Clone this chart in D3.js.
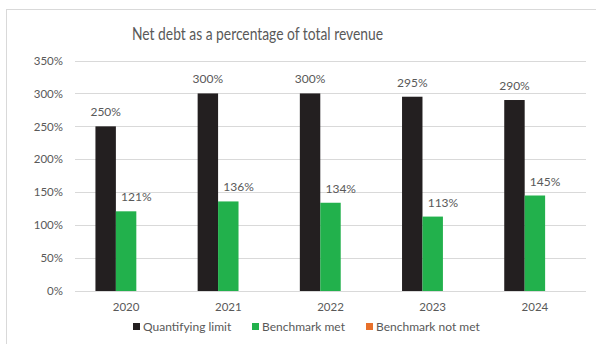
<!DOCTYPE html>
<html>
<head>
<meta charset="utf-8">
<script src="https://cdn.jsdelivr.net/npm/d3@7"></script>
<style>
  html, body { margin: 0; padding: 0; background: #fff; }
  svg { display: block; }
  text { font-family: "Lato", "Open Sans", sans-serif; fill: #595959; }
</style>
</head>
<body>
<svg id="chart" width="596" height="344"></svg>
<script>
// Net debt as a percentage of total revenue, 2020–2024
const years = ["2020", "2021", "2022", "2023", "2024"];
const seriesNames = ["Quantifying limit", "Benchmark met", "Benchmark not met"];
const quantifyingLimit = [2.50, 3.00, 3.00, 2.95, 2.90];
const benchmarkMet = [1.21, 1.36, 1.34, 1.13, 1.45];
const benchmarkNotMet = [0, 0, 0, 0, 0];
const yTicks = [0, 0.5, 1.0, 1.5, 2.0, 2.5, 3.0, 3.5];
const seriesColors = ["#231f20", "#22b14c", "#e8702a"];

const seriesValues = [quantifyingLimit, benchmarkMet, benchmarkNotMet];

const svg = d3.select("#chart");

// chart frame
svg.append("rect")
  .attr("x", 6.5).attr("y", 9.5)
  .attr("width", 620).attr("height", 360)
  .attr("fill", "none")
  .attr("stroke", "#d9d9d9");

const plot = { left: 75, right: 586, top: 60.5, bottom: 291 };

const x0 = d3.scaleBand()
  .domain(years)
  .range([plot.left, plot.right])
  .paddingInner(0.4)
  .paddingOuter(0.2);

const x1 = d3.scaleBand()
  .domain(seriesNames)
  .range([0, x0.bandwidth()]);

const y = d3.scaleLinear()
  .domain([0, 3.5])
  .range([plot.bottom, plot.top]);

const pct = d3.format(".0%");

// title, set in a narrow cut
svg.append("text")
  .attr("x", 132).attr("y", 40)
  .attr("textLength", 251)
  .attr("lengthAdjust", "spacingAndGlyphs")
  .style("font-size", "17px")
  .text("Net debt as a percentage of total revenue");

// gridlines
svg.append("g")
  .selectAll("line")
  .data(yTicks)
  .join("line")
  .attr("x1", plot.left).attr("x2", plot.right)
  .attr("y1", d => Math.round(y(d)) + 0.5)
  .attr("y2", d => Math.round(y(d)) + 0.5)
  .attr("stroke", "#d9d9d9")
  .attr("stroke-width", 1);

// y axis labels
const yAxis = d3.axisLeft(y).tickValues(yTicks).tickFormat(pct).tickSize(0).tickPadding(12);
const gy = svg.append("g")
  .attr("transform", `translate(${plot.left},0)`)
  .call(yAxis);
gy.select(".domain").remove();
gy.selectAll("text").style("font-size", "11.5px").attr("fill", "#595959")
  .style("font-family", "Lato, 'Open Sans', sans-serif");

// x axis labels
const xAxis = d3.axisBottom(x0).tickSize(0).tickPadding(12);
const gx = svg.append("g")
  .attr("transform", `translate(0,${plot.bottom})`)
  .call(xAxis);
gx.select(".domain").remove();
gx.selectAll("text").style("font-size", "11.5px").attr("fill", "#595959")
  .style("font-family", "Lato, 'Open Sans', sans-serif");

// bars
const groups = svg.append("g")
  .selectAll("g")
  .data(years)
  .join("g")
  .attr("transform", d => `translate(${x0(d)},0)`);

groups.selectAll("rect")
  .data((d, i) => seriesNames.map((s, k) => ({ s, k, v: seriesValues[k][i] })))
  .join("rect")
  .attr("x", d => x1(d.s))
  .attr("width", x1.bandwidth())
  .attr("y", d => y(d.v))
  .attr("height", d => y(0) - y(d.v))
  .attr("fill", d => seriesColors[d.k]);

// value labels (the benchmark labels sit over the benchmark pair)
groups.selectAll("text.val")
  .data((d, i) => [0, 1].map(k => ({ s: seriesNames[k], k, v: seriesValues[k][i] })))
  .join("text")
  .attr("class", "val")
  .attr("x", d => x1(d.s) + x1.bandwidth() * (d.k === 0 ? 0.5 : 1.0))
  .attr("y", d => y(d.v) - 10)
  .attr("text-anchor", "middle")
  .style("font-size", "12px")
  .text(d => pct(d.v));

// legend
const legendItems = [
  { name: seriesNames[0], x: 133 },
  { name: seriesNames[1], x: 252 },
  { name: seriesNames[2], x: 366 }
];
const lg = svg.append("g")
  .selectAll("g")
  .data(legendItems)
  .join("g")
  .attr("transform", d => `translate(${d.x},323)`);
lg.append("rect")
  .attr("width", 7).attr("height", 7)
  .attr("fill", (d, i) => seriesColors[i]);
lg.append("text")
  .attr("x", 10).attr("y", 8)
  .style("font-size", "12px")
  .text(d => d.name);
</script>
</body>
</html>
